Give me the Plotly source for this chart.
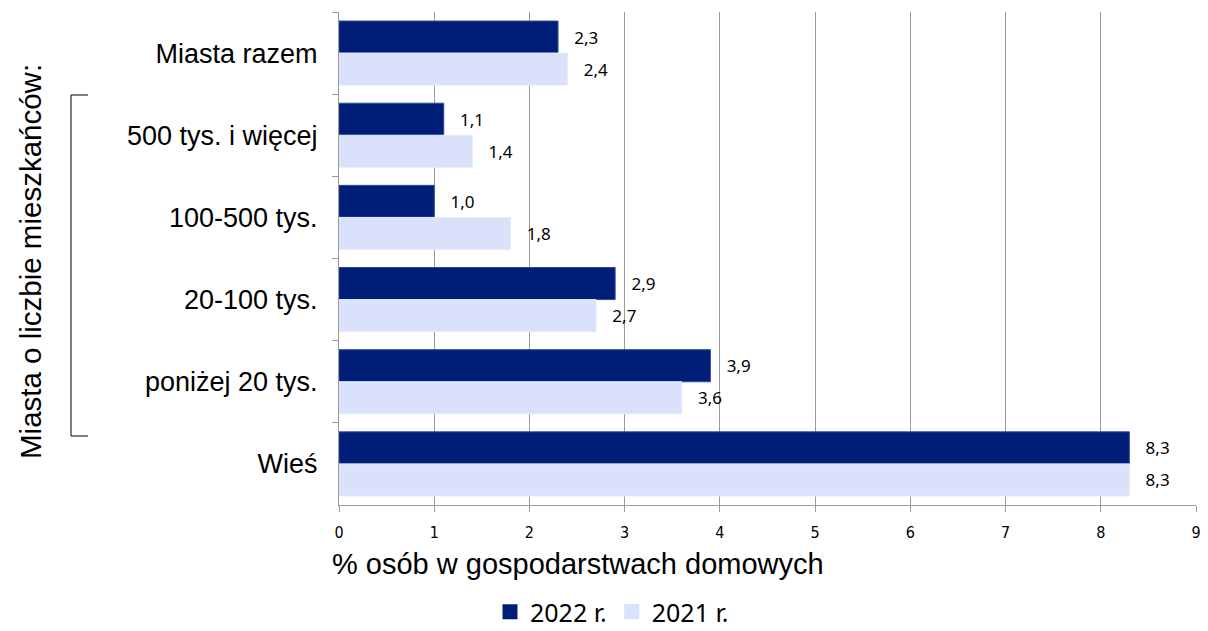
import plotly.graph_objects as go

categories = ["Miasta razem", "500 tys. i więcej", "100-500 tys.", "20-100 tys.", "poniżej 20 tys.", "Wieś"]
values_2022 = [2.3, 1.1, 1.0, 2.9, 3.9, 8.3]
values_2021 = [2.4, 1.4, 1.8, 2.7, 3.6, 8.3]
series_names = ["2022 r.", "2021 r."]
series_colors = ["#001E78", "#D9E1FB"]
x_ticks = list(range(0, 10))

def fmt(v):
    return "   " + f"{v:.1f}".replace(".", ",")

label_font = dict(family="Noto Sans, DejaVu Sans, sans-serif", size=17, color="#000000")

fig = go.Figure()
fig.add_trace(go.Bar(
    y=categories, x=values_2022, orientation="h", name=series_names[0],
    marker=dict(color=series_colors[0], line=dict(color="#2A4A9A", width=1)),
    text=[fmt(v) for v in values_2022], textposition="outside",
    textfont=label_font, cliponaxis=False, showlegend=False,
))
fig.add_trace(go.Bar(
    y=categories, x=values_2021, orientation="h", name=series_names[1],
    marker=dict(color=series_colors[1], line=dict(color="#E6ECFC", width=1)),
    text=[fmt(v) for v in values_2021], textposition="outside",
    textfont=label_font, cliponaxis=False, showlegend=False,
))
# legend entries with larger square symbols
for name, col in zip(series_names, series_colors):
    fig.add_trace(go.Scatter(x=[None], y=[None], mode="markers", name=name,
                             marker=dict(symbol="square", size=15, color=col), showlegend=True))

fig.update_layout(
    width=1208, height=631,
    margin=dict(l=339, r=12, t=12, b=126, autoexpand=False),
    paper_bgcolor="white", plot_bgcolor="white",
    barmode="group", bargap=0.22, bargroupgap=0,
    showlegend=True,
    legend=dict(orientation="h", x=(612 - 339) / 857, xanchor="center",
                yref="container", y=(631 - 612) / 631, yanchor="middle",
                font=dict(family="Noto Sans, DejaVu Sans, sans-serif", size=25, color="#000000"),
                traceorder="normal", itemwidth=30, tracegroupgap=0),
    xaxis=dict(range=[0, 9], tickvals=x_ticks, ticktext=[str(t) for t in x_ticks],
               showgrid=True, gridcolor="#9A9A9A", gridwidth=1,
               showline=True, linecolor="#9A9A9A", linewidth=1,
               ticks="outside", ticklen=6, tickcolor="#9A9A9A", ticklabelstandoff=7,
               tickfont=dict(family="Liberation Sans Narrow, DejaVu Sans Condensed, sans-serif", size=16, color="#000000"),
               zeroline=False, fixedrange=True, automargin=False),
    yaxis=dict(autorange="reversed", type="category",
               showline=True, linecolor="#9A9A9A", linewidth=1,
               ticks="outside", ticklen=6, tickcolor="#9A9A9A", tickson="boundaries",
               tickfont=dict(family="Liberation Sans, Arial, sans-serif", size=27, color="#000000"),
               ticksuffix="  ",
               showgrid=False, fixedrange=True, automargin=False),
    font=dict(family="Liberation Sans, Arial, sans-serif"),
)

# axis title
fig.add_annotation(text="% osób w gospodarstwach domowych", xref="paper", yref="paper",
                   x=(330 - 339) / 857, y=-(546 - 505) / 493, xanchor="left", yanchor="top", showarrow=False,
                   font=dict(family="Liberation Sans, Arial, sans-serif", size=29, color="#000000"))

# rotated group title
fig.add_annotation(text="Miasta o liczbie mieszkańców:", xref="paper", yref="paper",
                   x=(30 - 339) / 857, y=1 - (262 - 12) / 493, xanchor="center", yanchor="middle",
                   textangle=-90, showarrow=False,
                   font=dict(family="Liberation Sans, Arial, sans-serif", size=29.5, color="#000000"))

# bracket
bx0 = (71 - 339) / 857
bx1 = (88 - 339) / 857
by0 = 1 - (95 - 12) / 493
by1 = 1 - (436 - 12) / 493
fig.add_shape(type="path", xref="paper", yref="paper",
              path=f"M {bx1} {by0} L {bx0} {by0} L {bx0} {by1} L {bx1} {by1}",
              line=dict(color="#000000", width=1))

fig.write_html("out.html", config={"displayModeBar": False},
               post_script="document.body.style.margin='0';document.body.style.overflow='hidden';")
